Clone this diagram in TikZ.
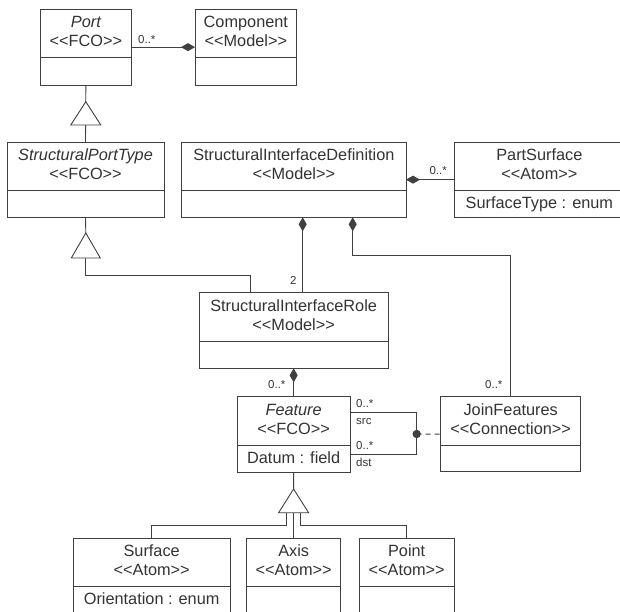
\documentclass[tikz,border=0pt]{standalone}
\usepackage{fontspec}
\newfontfamily\umlfont{Liberation Sans}
\usetikzlibrary{arrows.meta,calc}
\definecolor{ink}{HTML}{333333}
\definecolor{edge}{HTML}{404040}
\newcommand{\stereo}[1]{<\kern0pt<#1>\kern0pt>}
\tikzset{
  classbox/.style={draw=edge, line width=0.9pt, inner sep=0pt, outer sep=0pt, fill=white},
  boxline/.style={draw=edge, line width=0.9pt},
  titletext/.style={anchor=base, inner sep=0pt, text=ink, font=\umlfont\fontsize{16.3}{19}\selectfont},
  multlabel/.style={anchor=base west, inner sep=0pt, text=ink, font=\umlfont\fontsize{11.5}{13}\selectfont},
  conn/.style={draw=edge, line width=0.9pt},
  compo/.style={conn, -{Diamond[length=14pt,width=8pt]}},
  gentri/.style={draw=edge, line width=0.9pt, fill=white, line join=miter},
  depline/.style={conn, dash pattern=on 5pt off 4pt},
}
% name, x1, y1, x2, y2, title, stereotype, attribute
\newcommand{\umlclass}[8]{%
  \node[classbox, anchor=north west, minimum width={#4-#2}, minimum height={#5-#3}] (#1) at (#2,#3) {};
  \draw[boxline] ([yshift=-48.3pt]#1.north west) -- ([yshift=-48.3pt]#1.north east);
  \node[titletext] at ([yshift=-18.3pt]#1.north) {#6};
  \node[titletext] at ([yshift=-37.3pt]#1.north) {#7};
  \node[titletext] at ([yshift=-66.3pt]#1.north) {#8};
}
\begin{document}
\begin{tikzpicture}[x=1pt, y=-1pt]
\useasboundingbox (0,0) rectangle (620,611);
\clip (0,0) rectangle (620,611);

% classes
\umlclass{port}{40}{9.3}{131.7}{85}{\itshape Port}{\stereo{FCO}}{}
\umlclass{comp}{195}{9.3}{296.7}{85}{Component}{\stereo{Model}}{}
\umlclass{spt}{7}{142}{164}{217.3}{\itshape StructuralPortType}{\stereo{FCO}}{}
\umlclass{sid}{181.7}{142}{406}{217.3}{StructuralInterfaceDefinition}{\stereo{Model}}{}
\umlclass{psurf}{454}{142}{624.7}{217.3}{PartSurface}{\stereo{Atom}}{SurfaceType : enum}
\umlclass{sir}{199}{292.7}{388.3}{368.3}{StructuralInterfaceRole}{\stereo{Model}}{}
\umlclass{feat}{237.3}{396.7}{350}{472.3}{\itshape Feature}{\stereo{FCO}}{Datum : field}
\umlclass{jf}{440.7}{396.7}{580.7}{471.7}{JoinFeatures}{\stereo{Connection}}{}
\umlclass{surf}{73.3}{538.3}{230}{630}{Surface}{\stereo{Atom}}{Orientation : enum}
\umlclass{axis}{246.7}{538.3}{340.7}{630}{Axis}{\stereo{Atom}}{}
\umlclass{point}{359.3}{538.3}{454}{630}{Point}{\stereo{Atom}}{}

% helper coordinates
\coordinate (g1a) at (85.8,101.7);
\coordinate (g2a) at (85.8,233);
\coordinate (g2b) at (85.8,258);
\coordinate (g3a) at (293.6,489);
\coordinate (g3b) at (293.6,512.7);
\coordinate (x250) at (250,0);
\coordinate (x303) at (302.7,0);
\coordinate (k1) at (352.7,255);
\coordinate (jdot) at (416.7,434);
\coordinate (srcy) at (0,412.3);
\coordinate (dsty) at (0,454.3);

% compositions
\draw[compo] (port.east) -- (comp.west);
\draw[compo] (psurf.west) -- (sid.east);
\draw[compo] (sir.north -| x303) -- (sid.south -| x303);
\draw[compo] (jf.north) |- (k1) -- (k1 |- sid.south);
\draw[compo] (feat.north) -- (sir.south -| feat.north);

% generalizations
\draw[conn] (port.south) -- (spt.north);
\draw[gentri] (g1a) -- ++(-15,23.3) -- ++(30,0) -- cycle;
\draw[conn] (spt.south) -- (g2a);
\draw[conn] (sir.north -| x250) |- (85.8,275) -- (g2b);
\draw[gentri] (g2a) -- ++(-14.5,25) -- ++(29,0) -- cycle;
\draw[conn] (feat.south) -- (g3a);
\draw[conn] (surf.north) |- (286,525) -- (286,512.7);
\draw[conn] (axis.north) -- (axis.north |- g3b);
\draw[conn] (point.north) |- (300.6,525) -- (300.6,512.7);
\draw[gentri] (g3a) -- ++(-15,23.7) -- ++(30,0) -- cycle;

% connection
\draw[conn] (feat.east |- srcy) -| (jdot) |- (feat.east |- dsty);
\fill[edge] (jdot) circle (4.2pt);
\draw[depline] (jdot) -- (jf.west);

% multiplicities and role names
\node[multlabel] at (138,43) {0..*};
\node[multlabel] at (429.3,174) {0..*};
\node[multlabel] at (290,284) {2};
\node[multlabel] at (268,388) {0..*};
\node[multlabel] at (485,388) {0..*};
\node[multlabel] at (356,407.7) {0..*};
\node[multlabel] at (356,424) {src};
\node[multlabel] at (356,449.3) {0..*};
\node[multlabel] at (356,466) {dst};
\end{tikzpicture}
\end{document}
